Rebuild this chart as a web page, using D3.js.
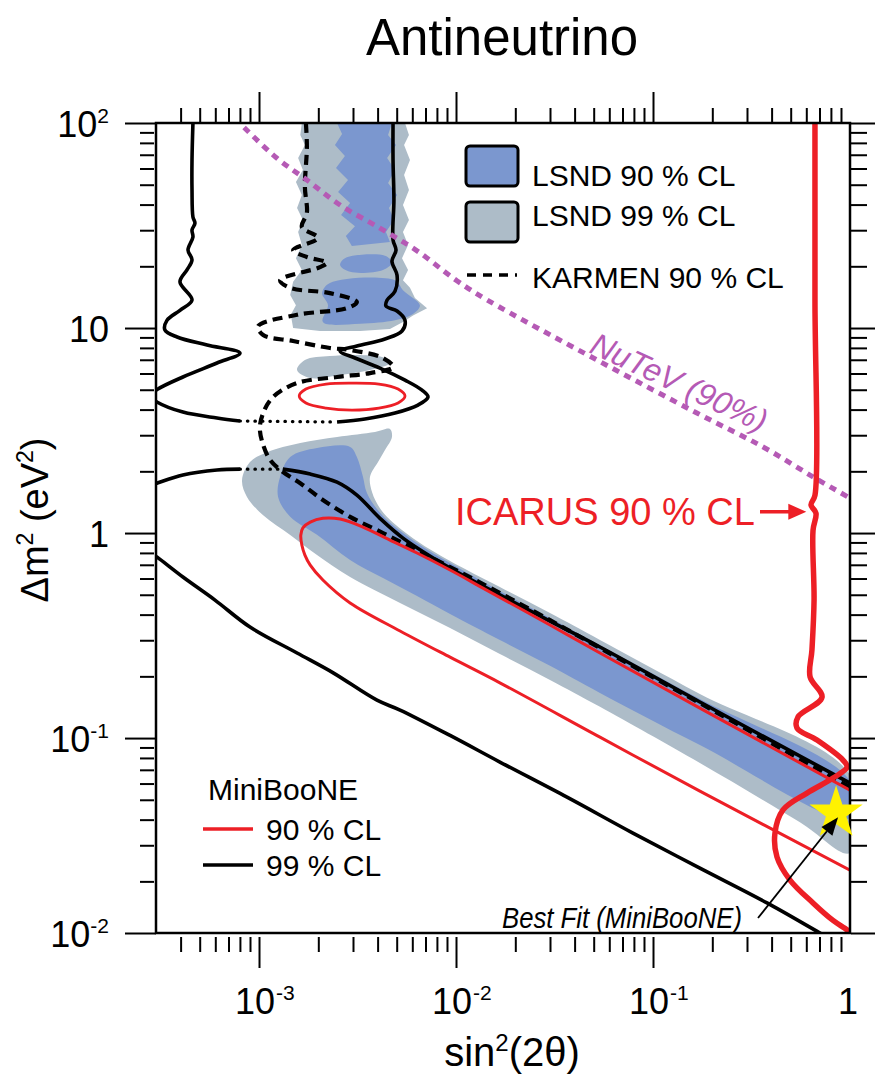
<!DOCTYPE html>
<html>
<head>
<meta charset="utf-8">
<script src="https://d3js.org/d3.v7.min.js"></script>
<style>
  body { margin: 0; background: #fff; }
  svg { display: block; }
  text { font-family: "Liberation Sans", Arial, Helvetica, sans-serif; }
</style>
</head>
<body>
<svg id="chart" width="875" height="1074"></svg>
<script>
// all points are [sin^2(2theta), dm^2 in eV^2]

// LSND allowed regions
const lsnd99Main = [[8.2e-4,1.81],[9.0e-4,2.22],[1.10e-3,2.48],[1.62e-3,2.75],[2.49e-3,2.94],[3.88e-3,3.11],[4.62e-3,3.22],[4.73e-3,2.94],[4.36e-3,2.54],[4.02e-3,2.22],[3.66e-3,1.88],[3.75e-3,1.58],[4.11e-3,1.32],[4.62e-3,1.16],[6.34e-3,0.914],[9.33e-3,0.730],[1.67e-2,0.545],[3.0e-2,0.407],[5.38e-2,0.301],[0.173,0.164],[1.0,0.0660],[1.0,0.0275],[0.557,0.0389],[0.173,0.0755],[5.38e-2,0.142],[3.0e-2,0.192],[1.67e-2,0.257],[9.33e-3,0.344],[5.20e-3,0.456],[2.90e-3,0.610],[1.97e-3,0.781],[1.44e-3,0.978],[1.05e-3,1.22],[8.69e-4,1.50]];
const lsnd99Top = [[1.65e-3,100],[1.62e-3,87.4],[1.71e-3,78.1],[1.58e-3,67.5],[1.67e-3,59.0],[1.54e-3,51.5],[1.65e-3,44.6],[1.56e-3,38.5],[1.67e-3,33.6],[1.58e-3,29.4],[1.65e-3,25.4],[1.54e-3,21.9],[1.65e-3,19.2],[1.49e-3,16.8],[1.44e-3,14.5],[1.54e-3,12.9],[1.45e-3,11.6],[1.49e-3,10.0],[2.04e-3,9.67],[3.26e-3,9.67],[4.62e-3,9.89],[5.38e-3,10.7],[6.05e-3,11.5],[7.13e-3,12.5],[6.19e-3,14.0],[5.84e-3,15.7],[5.38e-3,17.1],[5.71e-3,19.2],[5.32e-3,21.9],[5.71e-3,25.4],[5.38e-3,29.4],[5.77e-3,33.6],[5.38e-3,39.8],[5.77e-3,47.1],[5.45e-3,55.8],[5.84e-3,66.0],[5.45e-3,78.1],[5.77e-3,87.4],[5.51e-3,100]];
const lsnd99Island = [[1.56e-3,6.24],[1.71e-3,6.98],[2.29e-3,7.30],[3.26e-3,7.38],[4.36e-3,7.14],[4.62e-3,6.75],[3.66e-3,6.24],[2.58e-3,5.90],[1.82e-3,5.70]];
const lsnd90Main = [[1.28e-3,1.88],[1.44e-3,2.35],[1.97e-3,2.60],[2.90e-3,2.63],[3.14e-3,2.35],[3.37e-3,1.88],[3.53e-3,1.57],[4.26e-3,1.21],[6.34e-3,0.894],[9.33e-3,0.714],[1.67e-2,0.521],[3.0e-2,0.385],[5.38e-2,0.284],[0.173,0.155],[1.0,0.0617],[1.0,0.0407],[0.173,0.0925],[5.38e-2,0.166],[3.0e-2,0.225],[1.67e-2,0.301],[9.33e-3,0.403],[6.34e-3,0.493],[4.26e-3,0.603],[2.90e-3,0.738],[1.97e-3,0.98],[1.44e-3,1.20],[1.25e-3,1.50]];
const lsnd90Top = [[2.49e-3,100],[4.73e-3,100],[4.52e-3,87.4],[4.96e-3,78.1],[4.47e-3,67.5],[4.90e-3,59.0],[4.52e-3,51.0],[5.02e-3,44.6],[4.57e-3,38.5],[4.84e-3,33.6],[4.41e-3,29.4],[4.62e-3,26.3],[2.96e-3,25.1],[2.76e-3,28.1],[3.07e-3,31.4],[2.61e-3,35.6],[2.90e-3,40.7],[2.52e-3,46.1],[2.83e-3,52.7],[2.46e-3,60.3],[2.73e-3,69.0],[2.43e-3,78.1],[2.64e-3,88.4]];
const lsnd90Blob1 = [[2.73e-3,21.9],[4.36e-3,22.5],[4.73e-3,20.8],[4.26e-3,19.2],[2.90e-3,18.8],[2.58e-3,20.3]];
const lsnd90Blob2 = [[2.29e-3,16.6],[4.90e-3,17.1],[5.38e-3,15.3],[6.56e-3,12.9],[6.05e-3,11.7],[4.90e-3,10.9],[3.26e-3,10.5],[2.11e-3,10.7],[2.24e-3,12.9],[2.09e-3,14.8]];

// MiniBooNE 99 % CL (black)
const mb99LoopLeft = [[4.62e-4,100],[4.57e-4,66.0],[4.57e-4,47.1],[4.62e-4,34.8],[4.73e-4,32.5],[4.57e-4,30.1],[4.62e-4,27.8],[4.36e-4,24.0],[4.57e-4,21.5],[4.31e-4,19.2],[3.97e-4,16.8],[4.57e-4,13.7],[3.97e-4,12.2],[3.41e-4,10.9],[3.33e-4,9.78],[3.84e-4,9.04],[5.45e-4,8.26],[8.01e-4,7.55],[6.12e-4,6.75],[4.11e-4,5.77],[3.07e-4,5.04],[2.78e-4,4.66],[3.03e-4,4.36],[4.11e-4,3.89],[6.12e-4,3.64],[8.0e-4,3.52]];
const mb99LoopDotted = [[8.0e-4,3.52],[2.49e-3,3.48]];
const mb99LoopRight = [[2.49e-3,3.48],[3.45e-3,3.60],[4.90e-3,3.85],[6.41e-3,4.21],[7.21e-3,4.61],[6.72e-3,4.98],[5.51e-3,5.57],[4.11e-3,6.38],[3.07e-3,7.14],[2.58e-3,7.72],[3.14e-3,8.17],[4.36e-3,8.84],[5.32e-3,9.67],[5.51e-3,10.9],[5.02e-3,12.1],[4.41e-3,12.8],[4.47e-3,13.7],[4.90e-3,15.1],[5.02e-3,18.1],[4.73e-3,21.2],[4.96e-3,24.0],[4.79e-3,26.9],[4.84e-3,42.1],[4.79e-3,66.0],[4.79e-3,100]];
const mb99ArmLeft = [[2.78e-4,1.70],[3.03e-4,1.75],[4.11e-4,1.92],[6.12e-4,2.03],[8.0e-4,2.05]];
const mb99ArmDotted = [[8.0e-4,2.05],[1.32e-3,2.05]];
const mb99Upper = [[1.32e-3,2.05],[1.82e-3,1.94],[2.49e-3,1.77],[3.14e-3,1.53],[4.11e-3,1.18],[5.38e-3,0.945],[9.33e-3,0.675],[1.67e-2,0.499],[3.0e-2,0.372],[5.38e-2,0.278],[0.173,0.150],[1.0,0.0603]];
const mb99Lower = [[2.78e-4,0.808],[3.03e-4,0.764],[4.11e-4,0.610],[5.98e-4,0.471],[9.0e-4,0.348],[1.56e-3,0.260],[2.38e-3,0.208],[3.97e-3,0.153],[5.20e-3,0.137],[9.33e-3,0.103],[1.67e-2,0.0764],[3.66e-2,0.0515],[7.91e-2,0.0344],[0.173,0.0232],[0.379,0.0157],[0.704,0.0112],[0.84,0.0102]];

// MiniBooNE 90 % CL (red)
const mb90Ellipse = [[5.51e-3,4.66],[5.08e-3,5.04],[4.06e-3,5.33],[2.96e-3,5.39],[2.19e-3,5.33],[1.73e-3,5.04],[1.60e-3,4.66],[1.73e-3,4.31],[2.19e-3,4.07],[2.96e-3,3.98],[4.06e-3,4.07],[5.08e-3,4.31]];
const mb90Tongue = [[1.0,0.0557],[0.173,0.140],[5.38e-2,0.260],[3.0e-2,0.356],[1.37e-2,0.539],[9.33e-3,0.660],[6.34e-3,0.799],[4.62e-3,0.924],[3.37e-3,1.07],[2.58e-3,1.17],[2.11e-3,1.18],[1.82e-3,1.13],[1.67e-3,1.06],[1.63e-3,0.978],[1.65e-3,0.874],[1.71e-3,0.781],[1.82e-3,0.698],[2.11e-3,0.590],[2.90e-3,0.456],[5.20e-3,0.333],[9.33e-3,0.248],[1.67e-2,0.186],[5.38e-2,0.101],[0.173,0.0551],[1.0,0.0227]];

// other experiments
const karmen90 = [[1.73e-3,100],[1.75e-3,76.4],[1.71e-3,48.7],[1.75e-3,36.4],[1.65e-3,31.1],[1.99e-3,27.5],[1.49e-3,24.0],[1.75e-3,22.2],[2.21e-3,20.8],[2.04e-3,19.8],[1.28e-3,17.1],[1.44e-3,15.7],[2.29e-3,14.8],[3.14e-3,13.4],[2.80e-3,12.5],[1.56e-3,11.6],[9.89e-4,10.2],[1.05e-3,9.24],[1.49e-3,8.64],[2.29e-3,7.99],[2.90e-3,7.81],[4.26e-3,7.14],[4.79e-3,6.45],[3.66e-3,6.03],[2.49e-3,5.77],[1.56e-3,5.39],[1.18e-3,4.61],[1.05e-3,3.85],[1.01e-3,3.25],[1.05e-3,2.69],[1.14e-3,2.27],[1.32e-3,1.99],[1.62e-3,1.75],[2.11e-3,1.45],[2.90e-3,1.20],[4.26e-3,1.0],[6.34e-3,0.826],[9.33e-3,0.682],[1.37e-2,0.564],[3.0e-2,0.376],[5.38e-2,0.275],[0.173,0.148],[1.0,0.0576]];
const nutev90 = [[8.4e-4,95],[1.23e-3,67.5],[1.75e-3,52.7],[2.58e-3,39.8],[4.11e-3,30.7],[6.34e-3,23.8],[1.01e-2,17.0],[1.44e-2,13.7],[5.20e-2,6.98],[0.167,3.85],[0.362,2.63],[0.649,1.88],[1.0,1.48]];
const icarus90 = [[0.664,100],[0.664,13.7],[0.664,1.53],[0.634,1.37],[0.672,1.25],[0.649,1.03],[0.657,0.471],[0.641,0.269],[0.627,0.199],[0.721,0.158],[0.545,0.127],[0.538,0.112],[0.680,0.0978],[0.921,0.0781],[0.966,0.0722],[0.820,0.0638],[0.605,0.0539],[0.457,0.0446],[0.416,0.0344],[0.426,0.0263],[0.496,0.0203],[0.649,0.0157],[0.820,0.0129],[0.966,0.0116],[1.0,0.0112]];
const bestFit = [0.85, 0.043];
const icarusArrowTip = [0.60, 1.27];

// tick labels
const xTickValues = [1e-3, 1e-2, 1e-1, 1];
const xTickLabels = [["10","-3"],["10","-2"],["10","-1"],["1",""]];
const yTickValues = [100, 10, 1, 0.1, 0.01];
const yTickLabels = [["10","2"],["10",""],["1",""],["10","-1"],["10","-2"]];

const blue = "#7b97cf", gray = "#adbcc8", red = "#ed1f26", magenta = "#b55ab5", yellow = "#fff200";
const plot = {left: 156, right: 850, top: 123, bottom: 933};

const svg = d3.select("#chart");
const x = d3.scaleLog().domain([3e-4, 1]).range([plot.left, plot.right]);
const y = d3.scaleLog().domain([0.0112, 100]).range([plot.bottom, plot.top]);
const yLab = y.copy().clamp(true);

svg.append("defs").append("clipPath").attr("id", "clip").append("rect")
    .attr("x", plot.left).attr("y", plot.top)
    .attr("width", plot.right - plot.left).attr("height", plot.bottom - plot.top);

const area = svg.append("g").attr("clip-path", "url(#clip)");

const smooth = d3.line().x(d => x(d[0])).y(d => y(d[1])).curve(d3.curveCatmullRom.alpha(0.5));
const smoothClosed = d3.line().x(d => x(d[0])).y(d => y(d[1])).curve(d3.curveCatmullRomClosed.alpha(0.5));
const straight = d3.line().x(d => x(d[0])).y(d => y(d[1]));
const straightClosed = d3.line().x(d => x(d[0])).y(d => y(d[1])).curve(d3.curveLinearClosed);

function fill(data, gen, color) {
    area.append("path").attr("d", gen(data)).attr("fill", color);
}
function stroke(data, gen, color, width, dash, cap) {
    area.append("path").attr("d", gen(data))
        .attr("fill", "none").attr("stroke", color).attr("stroke-width", width)
        .attr("stroke-linejoin", "round").attr("stroke-linecap", cap || "butt")
        .attr("stroke-dasharray", dash || null);
}

// LSND
fill(lsnd99Main, smoothClosed, gray);
fill(lsnd99Top, straightClosed, gray);
fill(lsnd99Island, smoothClosed, gray);
fill(lsnd90Main, smoothClosed, blue);
fill(lsnd90Top, straightClosed, blue);
fill(lsnd90Blob1, smoothClosed, blue);
fill(lsnd90Blob2, smoothClosed, blue);

// MiniBooNE 99
stroke(mb99LoopLeft, smooth, "#000", 3.6);
stroke(mb99LoopDotted, straight, "#000", 3.2, "0.5,7", "round");
stroke(mb99LoopRight, smooth, "#000", 3.6);
stroke(mb99ArmLeft, smooth, "#000", 3.6);
stroke(mb99ArmDotted, straight, "#000", 3.2, "0.5,7", "round");
stroke(mb99Upper, smooth, "#000", 3.6);
stroke(mb99Lower, smooth, "#000", 3.6);

// KARMEN
stroke(karmen90, smooth, "#000", 4.2, "10,6");

// MiniBooNE 90
stroke(mb90Ellipse, smoothClosed, red, 2.8);
stroke(mb90Tongue, smooth, red, 3);

// NuTeV
stroke(nutev90, smooth, magenta, 5, "7,6");

// ICARUS
area.append("path").attr("d", smooth(icarus90))
    .attr("fill", "none").attr("stroke", red).attr("stroke-width", 5.5).attr("stroke-linejoin", "round");

// frame
svg.append("rect").attr("x", plot.left).attr("y", plot.top)
    .attr("width", plot.right - plot.left).attr("height", plot.bottom - plot.top)
    .attr("fill", "none").attr("stroke", "#000").attr("stroke-width", 2.5);

// ticks on four sides
const isMajor = v => Math.abs(Math.log10(v) - Math.round(Math.log10(v))) < 1e-6;
const xMinor = x.ticks().filter(v => !isMajor(v) && v > x.domain()[0] * 1.01);
const xMajor = xTickValues.filter(v => v < 1);
const yMinor = y.ticks().filter(v => !isMajor(v));
const yMajor = [100, 10, 1, 0.1, y.domain()[0]];

function ticks(axisFn, scale, values, size, tx, ty) {
    const a = svg.append("g").attr("transform", "translate(" + tx + "," + ty + ")")
        .call(axisFn(scale).tickValues(values).tickSize(size).tickFormat(""));
    a.select(".domain").remove();
    a.selectAll("line").attr("stroke", "#000").attr("stroke-width", 2);
}
ticks(d3.axisTop, x, xMinor, 15, 0, plot.top);
ticks(d3.axisTop, x, xMajor, 31, 0, plot.top);
ticks(d3.axisBottom, x, xMinor, 15, 0, plot.bottom + 4);
ticks(d3.axisBottom, x, xMajor, 31, 0, plot.bottom + 4);
ticks(d3.axisLeft, y, yMinor, 14, plot.left - 2, 0);
ticks(d3.axisLeft, y, yMajor, 31, plot.left, 0);
ticks(d3.axisRight, y, yMinor, 16, plot.right + 1, 0);
ticks(d3.axisRight, y, yMajor, 26, plot.right + 1, 0);

// tick labels
xTickValues.forEach((v, i) => {
    const [base, exp] = xTickLabels[i];
    const cx = x(v) - (exp ? 4 : 2);
    const t = svg.append("text").attr("x", cx).attr("y", 1014)
        .attr("text-anchor", "middle").attr("font-size", 36).text(base);
    if (exp) {
        const w = t.node().getComputedTextLength();
        svg.append("text").attr("x", cx + w / 2 + 1).attr("y", 1000)
            .attr("font-size", 21).text(exp);
    }
});
yTickValues.forEach((v, i) => {
    const [base, exp] = yTickLabels[i];
    const t = svg.append("text").attr("x", 109).attr("y", yLab(v) + 14)
        .attr("text-anchor", "end").attr("font-size", 36).text(base);
    if (exp) t.append("tspan").attr("dy", -14).attr("font-size", 21).text(exp);
});

// titles
svg.append("text").attr("x", 502).attr("y", 55).attr("text-anchor", "middle")
    .attr("font-size", 51).text("Antineutrino");

const xt = svg.append("text").attr("x", 512).attr("y", 1066).attr("text-anchor", "middle").attr("font-size", 40);
xt.append("tspan").text("sin");
xt.append("tspan").attr("dy", -15).attr("font-size", 24).text("2");
xt.append("tspan").attr("dy", 15).text("(2\u03b8)");

const yt = svg.append("text").attr("transform", "translate(48,520) rotate(-90)")
    .attr("text-anchor", "middle").attr("font-size", 38);
yt.append("tspan").text("\u0394m");
yt.append("tspan").attr("dy", -15).attr("font-size", 23).text("2");
yt.append("tspan").attr("dy", 15).text(" (eV");
yt.append("tspan").attr("dy", -15).attr("font-size", 23).text("2");
yt.append("tspan").attr("dy", 15).text(")");

// legend, top right
const legTop = [
    {fill: blue, label: "LSND 90 % CL", y: 146, ty: 186},
    {fill: gray, label: "LSND 99 % CL", y: 202, ty: 226}
];
legTop.forEach(d => {
    svg.append("rect").attr("x", 466).attr("y", d.y).attr("width", 52).attr("height", 40).attr("rx", 4)
        .attr("fill", d.fill).attr("stroke", "#000").attr("stroke-width", 3);
    svg.append("text").attr("x", 532).attr("y", d.ty).attr("font-size", 30).text(d.label);
});
svg.append("line").attr("x1", 467).attr("x2", 517).attr("y1", 275).attr("y2", 275)
    .attr("stroke", "#000").attr("stroke-width", 3.5).attr("stroke-dasharray", "9,7");
svg.append("text").attr("x", 532).attr("y", 288).attr("font-size", 30).text("KARMEN 90 % CL");

// legend, bottom left
svg.append("text").attr("x", 208).attr("y", 800).attr("font-size", 30).text("MiniBooNE");
[{c: red, label: "90 % CL", y: 829}, {c: "#000", label: "99 % CL", y: 865}].forEach(d => {
    svg.append("line").attr("x1", 203).attr("x2", 253).attr("y1", d.y).attr("y2", d.y)
        .attr("stroke", d.c).attr("stroke-width", 3.5);
    svg.append("text").attr("x", 266).attr("y", d.y + 11).attr("font-size", 30).text(d.label);
});

// NuTeV label
svg.append("text").attr("transform", "translate(588,352) rotate(25)")
    .attr("font-size", 32).attr("font-style", "italic").attr("fill", magenta).text("NuTeV (90%)");

// ICARUS label and arrow
const tip = [x(icarusArrowTip[0]), y(icarusArrowTip[1])];
svg.append("text").attr("x", 455).attr("y", 525).attr("font-size", 38).attr("fill", red).text("ICARUS 90 % CL");
svg.append("line").attr("x1", 760).attr("x2", tip[0] - 15).attr("y1", tip[1]).attr("y2", tip[1])
    .attr("stroke", red).attr("stroke-width", 3.5);
svg.append("path").attr("fill", red)
    .attr("d", d3.line()([[tip[0], tip[1]], [tip[0] - 18, tip[1] - 8], [tip[0] - 18, tip[1] + 8]]) + "Z");

// best fit star and arrow
const bx = x(bestFit[0]), by = y(bestFit[1]);
svg.append("path").attr("transform", "translate(" + bx + "," + by + ")")
    .attr("d", d3.symbol(d3.symbolStar, 880)()).attr("fill", yellow);

const s = [758, 918], t = [bx + 2, by + 4];
const len = Math.hypot(t[0] - s[0], t[1] - s[1]);
const u = [(t[0] - s[0]) / len, (t[1] - s[1]) / len], n = [-u[1], u[0]];
const b = [t[0] - 18 * u[0], t[1] - 18 * u[1]];
svg.append("line").attr("x1", s[0]).attr("y1", s[1]).attr("x2", b[0]).attr("y2", b[1])
    .attr("stroke", "#000").attr("stroke-width", 1.8);
svg.append("path").attr("fill", "#000")
    .attr("d", d3.line()([t, [b[0] + 7 * n[0], b[1] + 7 * n[1]], [b[0] - 7 * n[0], b[1] - 7 * n[1]]]) + "Z");
svg.append("text").attr("x", 502).attr("y", 928).attr("font-size", 30).attr("font-style", "italic")
    .attr("textLength", 240).attr("lengthAdjust", "spacingAndGlyphs").text("Best Fit (MiniBooNE)");
</script>
</body>
</html>
